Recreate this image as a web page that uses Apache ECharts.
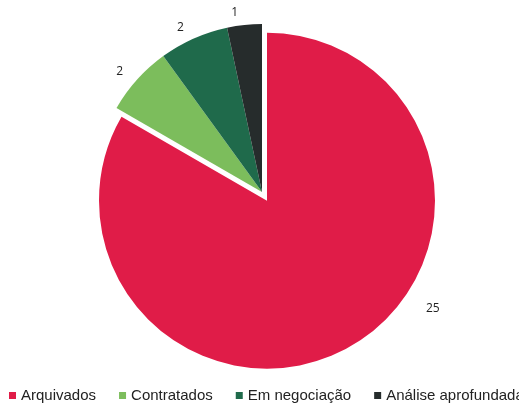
<!DOCTYPE html>
<html>
<head>
<meta charset="utf-8">
<script src="https://cdn.jsdelivr.net/npm/echarts@6/dist/echarts.min.js"></script>
<style>
	html, body { margin: 0; padding: 0; background: #fff; }
	#chart { width: 519px; height: 403px; }
</style>
</head>
<body>
<div id="chart"></div>
<script>
var categories = ['Arquivados', 'Contratados', 'Em negociação', 'Análise aprofundada'];
var values = [25, 2, 2, 1];
var colors = ['#e01c48', '#7cbd5c', '#1f6a4b', '#262c2c'];

var mainChart = echarts.init(document.getElementById('chart'));

var pieData = categories.map(function (name, i) {
	return {
		name: name,
		value: values[i],
		selected: i === 0,
		itemStyle: { color: colors[i] }
	};
});

mainChart.setOption({
	animation: false,
	legend: {
		data: categories,
		left: 4,
		bottom: -5,
		width: 800,
		itemWidth: 7,
		itemHeight: 7,
		itemGap: 23,
		icon: 'rect',
		textStyle: {
			fontFamily: 'Liberation Sans',
			fontSize: 15,
			color: '#222'
		}
	},
	series: [{
		type: 'pie',
		center: [262, 192],
		radius: 168,
		startAngle: 90,
		clockwise: true,
		selectedMode: 'single',
		selectedOffset: 10,
		label: {
			show: true,
			position: 'outside',
			formatter: '{c}',
			fontFamily: 'Open Sans',
			fontSize: 12,
			color: '#222'
		},
		labelLine: { show: false, length: 12, length2: 0 },
		labelLayout: function (params) {
			// nudge the big slice label the way Excel placed it
			if (params.dataIndex === 0) {
				return { dx: 64, dy: -48 };
			}
			return {};
		},
		data: pieData
	}]
});
</script>
</body>
</html>
